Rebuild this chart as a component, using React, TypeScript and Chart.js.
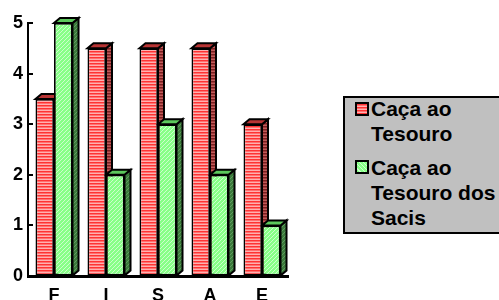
import React, { useEffect, useRef } from 'react';
import { Chart, registerables } from 'chart.js';

Chart.register(...registerables);

const categories = ['F', 'I', 'S', 'A', 'E'];
const cacaAoTesouro = [3.5, 4.5, 4.5, 4.5, 3];
const cacaAoTesouroDosSacis = [5, 2, 3, 2, 1];
const seriesLabels = ['Caça ao Tesouro', 'Caça ao Tesouro dos Sacis'];
const legendLines = [['Caça ao', 'Tesouro'], ['Caça ao', 'Tesouro dos', 'Sacis']];
const yMin = 0;
const yMax = 5;
const yStep = 1;

const FONT = '"Liberation Sans", Arial, Helvetica, sans-serif';
const DX = 6;
const DY = -5;

function makePattern(rows: string[][]): CanvasPattern | string {
  const h = rows.length;
  const w = rows[0].length;
  const c = document.createElement('canvas');
  c.width = w;
  c.height = h;
  const g = c.getContext('2d');
  if (!g) return rows[0][0];
  for (let r = 0; r < h; r++) {
    for (let q = 0; q < w; q++) {
      g.fillStyle = rows[r][q];
      g.fillRect(q, r, 1, 1);
    }
  }
  const ctx = document.createElement('canvas').getContext('2d');
  const p = ctx ? ctx.createPattern(c, 'repeat') : null;
  return p || rows[0][0];
}

function diag(base: string, light: string): string[][] {
  const rows: string[][] = [];
  for (let r = 0; r < 4; r++) {
    const row: string[] = [];
    for (let q = 0; q < 4; q++) row.push((q + r) % 4 === 0 ? light : base);
    rows.push(row);
  }
  return rows;
}

export default function App() {
  const ref = useRef<HTMLCanvasElement | null>(null);

  useEffect(() => {
    if (!ref.current) return;
    const redFront = makePattern([['#ff3333'], ['#ff7070'], ['#ffb0b0']]);
    const redSide = makePattern([['#7a2020'], ['#a03a3a'], ['#c05c5c']]);
    const greenFront = makePattern(diag('#88ff88', '#ccffcc'));
    const greenSide = makePattern(diag('#3c7a3c', '#5e9e5e'));
    const sides = [redSide, greenSide];
    const tops = ['#b83434', '#5cc85c'];

    const threeD = {
      id: 'threeD',
      beforeDatasetsDraw(chart: any) {
        const ctx = chart.ctx;
        ctx.save();
        ctx.lineWidth = 2;
        ctx.strokeStyle = '#000';
        chart.data.datasets.forEach((_ds: any, i: number) => {
          const meta = chart.getDatasetMeta(i);
          meta.data.forEach((el: any) => {
            const { x, y, base, width } = el.getProps(['x', 'y', 'base', 'width'], true);
            const l = x - width / 2;
            const r = x + width / 2;
            ctx.beginPath();
            ctx.moveTo(r, y);
            ctx.lineTo(r + DX, y + DY);
            ctx.lineTo(r + DX, base + DY);
            ctx.lineTo(r, base);
            ctx.closePath();
            ctx.fillStyle = sides[i];
            ctx.fill();
            ctx.stroke();
            ctx.beginPath();
            ctx.moveTo(l, y);
            ctx.lineTo(l + DX, y + DY);
            ctx.lineTo(r + DX, y + DY);
            ctx.lineTo(r, y);
            ctx.closePath();
            ctx.fillStyle = tops[i];
            ctx.fill();
            ctx.stroke();
          });
        });
        ctx.restore();
      },
      afterDraw(chart: any) {
        const ctx = chart.ctx;
        const ys = chart.scales.y;
        const left = chart.chartArea.left;
        ctx.save();
        ctx.strokeStyle = '#000';
        ctx.lineWidth = 2;
        ys.ticks.forEach((t: any) => {
          const py = Math.round(ys.getPixelForValue(t.value));
          ctx.beginPath();
          ctx.moveTo(left, py);
          ctx.lineTo(left + 5, py);
          ctx.stroke();
        });
        ctx.restore();
      },
    };

    const tickFont = { family: FONT, size: 18, weight: 'bold' as const };

    const chart = new Chart(ref.current, {
      type: 'bar',
      data: {
        labels: categories,
        datasets: [
          {
            label: seriesLabels[0],
            data: cacaAoTesouro,
            backgroundColor: redFront as any,
            borderColor: '#000',
            borderWidth: 1.75,
            borderSkipped: false,
            categoryPercentage: 0.712,
            barPercentage: 1,
          },
          {
            label: seriesLabels[1],
            data: cacaAoTesouroDosSacis,
            backgroundColor: greenFront as any,
            borderColor: '#000',
            borderWidth: 1.75,
            borderSkipped: false,
            categoryPercentage: 0.712,
            barPercentage: 1,
          },
        ],
      },
      options: {
        animation: false,
        responsive: false,
        devicePixelRatio: 1,
        layout: { padding: { left: 0, right: 211, top: 23, bottom: 0 } },
        plugins: { legend: { display: false }, tooltip: { enabled: false } },
        scales: {
          x: {
            grid: { display: true, drawOnChartArea: false, drawTicks: false },
            border: { display: true, color: '#000', width: 3 },
            ticks: { font: tickFont, color: '#000', padding: 9 },
            afterFit: (s: any) => {
              s.height = 24;
            },
          },
          y: {
            min: yMin,
            max: yMax,
            grid: { display: true, drawOnChartArea: false, drawTicks: false },
            border: { display: true, color: '#000', width: 2 },
            ticks: { stepSize: yStep, font: tickFont, color: '#000', padding: 5 },
            afterFit: (s: any) => {
              s.width = 28;
            },
          },
        },
      },
      plugins: [threeD],
    });
    return () => chart.destroy();
  }, []);

  const redSwatch =
    'repeating-linear-gradient(to bottom, #ff3333 0px, #ff3333 1px, #ff7070 1px, #ff7070 2px, #ffb0b0 2px, #ffb0b0 3px)';
  const greenSwatch = 'repeating-linear-gradient(45deg, #88ff88 0px, #88ff88 2px, #ccffcc 2px, #ccffcc 3px)';
  const textStyle: React.CSSProperties = {
    position: 'absolute',
    left: 371,
    fontFamily: FONT,
    fontWeight: 'bold',
    fontSize: 21,
    lineHeight: '25px',
    color: '#000',
    whiteSpace: 'nowrap',
  };

  return (
    <div
      style={{
        position: 'fixed',
        left: 0,
        top: 0,
        width: 499,
        height: 300,
        overflow: 'hidden',
        background: '#fff',
      }}
    >
      <canvas ref={ref} width={499} height={300} style={{ position: 'absolute', left: 0, top: 0 }} />
      <div
        style={{
          position: 'absolute',
          left: 343,
          top: 96,
          width: 180,
          height: 138,
          boxSizing: 'border-box',
          border: '2px solid #000',
          background: '#c0c0c0',
        }}
      />
      <div
        style={{
          position: 'absolute',
          left: 355,
          top: 102,
          width: 14,
          height: 14,
          boxSizing: 'border-box',
          border: '2px solid #000',
          background: redSwatch,
        }}
      />
      <div style={{ ...textStyle, top: 96 }}>
        {legendLines[0].map((t, i) => (
          <div key={i}>{t}</div>
        ))}
      </div>
      <div
        style={{
          position: 'absolute',
          left: 355,
          top: 160,
          width: 14,
          height: 14,
          boxSizing: 'border-box',
          border: '2px solid #000',
          background: greenSwatch,
        }}
      />
      <div style={{ ...textStyle, top: 155 }}>
        {legendLines[1].map((t, i) => (
          <div key={i}>{t}</div>
        ))}
      </div>
    </div>
  );
}
